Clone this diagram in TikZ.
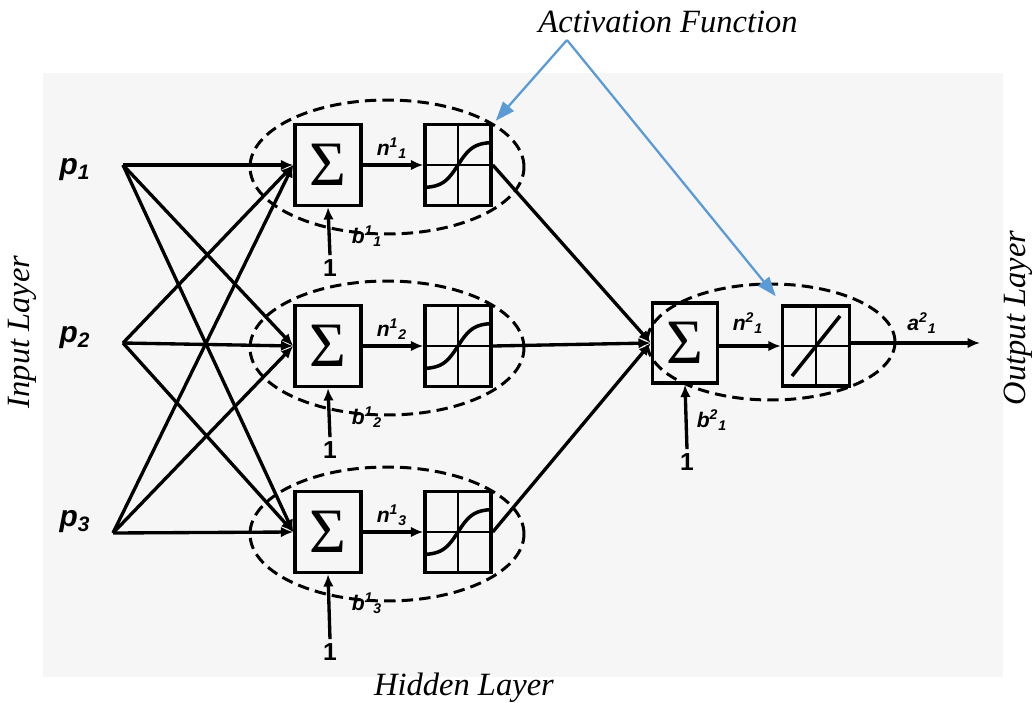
\documentclass[tikz,border=0pt]{standalone}
\usepackage{fontspec}
\setmainfont{Liberation Serif}
\newfontfamily\labfont{Liberation Sans}
\usetikzlibrary{arrows.meta,shapes.geometric}
\definecolor{panel}{HTML}{F6F6F6}
\definecolor{callout}{HTML}{5B9BD5}

\begin{document}
\begin{tikzpicture}[x=0.02cm,y=-0.02cm,
  wire/.style={line width=1.9pt,-{Latex[length=7pt,width=6pt]}},
  sumbox/.style={draw,line width=2pt,minimum width=1.32cm,minimum height=1.62cm,
    inner sep=0pt,font=\fontsize{36}{36}\selectfont},
  actbox/.style={draw,line width=2pt,minimum width=1.32cm,minimum height=1.62cm,inner sep=0pt},
  group/.style={draw,ellipse,line width=1.7pt,dash pattern=on 6.5pt off 3.5pt,
    minimum width=5.48cm,minimum height=2.68cm,inner sep=0pt},
  inlab/.style={font=\labfont\bfseries\itshape\fontsize{17}{17}\selectfont},
  sig/.style={font=\labfont\bfseries\itshape\fontsize{12}{12}\selectfont,inner sep=0pt},
  one/.style={font=\labfont\bfseries\fontsize{14}{14}\selectfont,inner sep=0pt},
  layer/.style={font=\itshape\fontsize{18.5}{18.5}\selectfont},
  callarrow/.style={draw=callout,line width=1.3pt,-{Triangle[length=11pt,width=8pt]}},
]
\useasboundingbox (0,0) rectangle (1036,703);
\fill[panel] (43,73) rectangle (1003,677);

% inputs
\node[inlab] (p1) at (75,170) {p\textsubscript{1}};
\node[inlab] (p2) at (75,338) {p\textsubscript{2}};
\node[inlab] (p3) at (75,522) {p\textsubscript{3}};
\coordinate (q1) at (123,165);
\coordinate (q2) at (123,343);
\coordinate (q3) at (113,533);

% hidden layer neurons
\foreach \i/\y/\o in {1/165/268, 2/346/450, 3/532/652}{
  \node[group] (e\i) at (387,\y+2) {};
  \node[sumbox] (s\i) at (328,\y) {Σ};
  \node[actbox] (a\i) at (458,\y) {};
  \draw[line width=1.2pt] (a\i.north) -- (a\i.south) (a\i.west) -- (a\i.east);
  \draw[line width=2pt,shift={(a\i.center)}]
    plot[domain=-33:33,samples=40,smooth] (\x,{-23*tanh(\x/15)});
  \draw[wire] (s\i.east) -- (a\i.west);
  \node[sig] (n\i) at (392,\y-17) {n\textsuperscript{1}\textsubscript{\i}};
  \node[one] (u\i) at (330,\o) {1};
  \draw[wire] (u\i.north) ++(0,-4) -- (s\i.south);
  \node[sig] (b\i) at (367,\y+71) {b\textsuperscript{1}\textsubscript{\i}};
}

% fully connected inputs
\foreach \a in {1,2,3}
  \foreach \b in {1,2,3}
    \draw[wire] (q\a) -- (s\b.west);

% output neuron
\node[group,minimum width=4.96cm,minimum height=2.32cm] (eo) at (771,342) {};
\node[sumbox,minimum width=1.3cm,minimum height=1.6cm] (so) at (685,343) {Σ};
\node[actbox,minimum width=1.34cm,minimum height=1.6cm] (ao) at (816,346) {};
\draw[line width=1.2pt] (ao.north) -- (ao.south) (ao.west) -- (ao.east);
\draw[line width=2pt] ([shift={(-24,30)}]ao.center) -- ([shift={(24,-30)}]ao.center);
\draw[wire] (so.east |- ao.west) -- (ao.west);
\node[sig] (no) at (748,323) {n\textsuperscript{2}\textsubscript{1}};
\node[one] (uo) at (687,462) {1};
\draw[wire] (uo.north) ++(0,-4) -- (so.south);
\node[sig] (bo) at (712,420) {b\textsuperscript{2}\textsubscript{1}};
\coordinate (out) at (980,343);
\draw[wire] (ao.east |- out) -- (out);
\node[sig] (ao1) at (922,323) {a\textsuperscript{2}\textsubscript{1}};

% hidden to output
\foreach \i in {1,2,3}
  \draw[wire] (a\i.east) -- (so.west);

% callout
\node[layer] (act) at (668,22) {Activation Function};
\coordinate (fork) at (567,40);
\draw[callarrow] (fork) -- ([shift={(3,-2)}]a1.north east);
\draw[callarrow] (fork) -- ([shift={(-5,-8)}]ao.north west);

% layer captions
\node[layer,rotate=90] (inl) at (22,332) {Input Layer};
\node[layer,rotate=90] (outl) at (1018,318) {Output Layer};
\node[layer] (hid) at (464,688) {Hidden Layer};
\end{tikzpicture}
\end{document}
